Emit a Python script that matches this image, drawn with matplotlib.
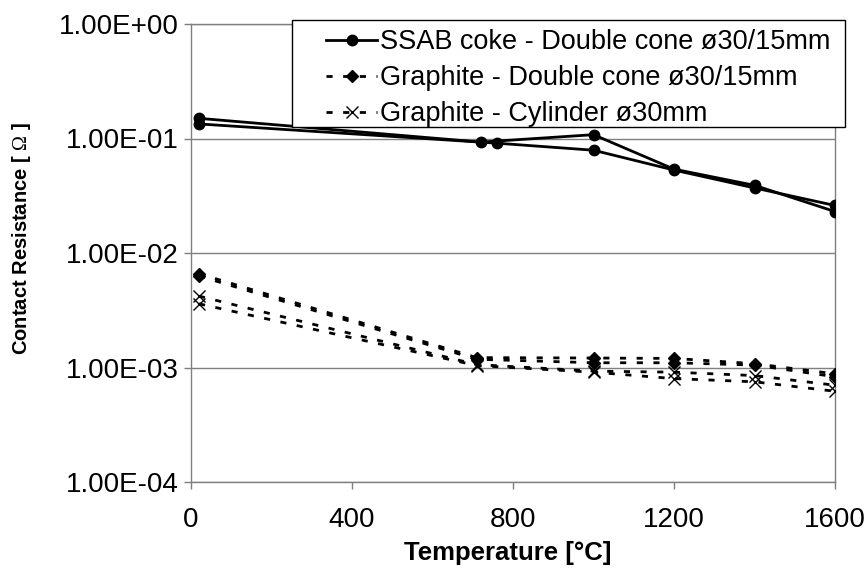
import matplotlib.pyplot as plt
from matplotlib.patches import Rectangle
from matplotlib.ticker import FixedLocator, FuncFormatter, NullLocator

plt.rcParams['font.family'] = ['Liberation Sans', 'DejaVu Sans']
plt.rcParams['mathtext.fontset'] = 'custom'
plt.rcParams['mathtext.rm'] = 'Liberation Serif'

# contact resistance [ohm] vs temperature [degC], two runs per configuration
ssab_t1 = [20, 720, 1000, 1200, 1400, 1600]
ssab_r1 = [0.150, 0.093, 0.108, 0.054, 0.039, 0.023]
ssab_t2 = [20, 760, 1000, 1200, 1400, 1600]
ssab_r2 = [0.134, 0.091, 0.079, 0.053, 0.037, 0.026]

gr_t = [20, 710, 1000, 1200, 1400, 1600]
cone_r1 = [0.0066, 0.00122, 0.00121, 0.00120, 0.00108, 0.00088]
cone_r2 = [0.0063, 0.00118, 0.00110, 0.00110, 0.00105, 0.00083]
cyl_r1 = [0.0042, 0.00106, 0.00093, 0.00091, 0.00085, 0.00070]
cyl_r2 = [0.0036, 0.00104, 0.00091, 0.00080, 0.00075, 0.00062]

labels = ['SSAB coke - Double cone ø30/15mm',
          'Graphite - Double cone ø30/15mm',
          'Graphite - Cylinder ø30mm']
x_ticks = [0, 400, 800, 1200, 1600]
y_ticks = [1e-4, 1e-3, 1e-2, 1e-1, 1e0]

W, H = 866, 569
fig = plt.figure(figsize=(W / 100, H / 100), dpi=100)
ax = fig.add_axes([191/W, 1-482/H, (835-191)/W, (482-24)/H])

dash = (0, (2.2, 3.8))
h1, = ax.plot(ssab_t1, ssab_r1, color='black', lw=2.0, marker='o', ms=7.5, zorder=4)
ax.plot(ssab_t2, ssab_r2, color='black', lw=2.0, marker='o', ms=7.5, zorder=4)
h2, = ax.plot(gr_t, cone_r1, color='black', lw=2.0, ls=dash, marker='D', ms=6.5, zorder=3)
ax.plot(gr_t, cone_r2, color='black', lw=2.0, ls=dash, marker='D', ms=6.5, zorder=3)
h3, = ax.plot(gr_t, cyl_r1, color='black', lw=2.0, ls=dash, marker='x', ms=8, mew=1.0, zorder=3)
ax.plot(gr_t, cyl_r2, color='black', lw=2.0, ls=dash, marker='x', ms=8, mew=1.0, zorder=3)

ax.set_yscale('log')
ax.set_ylim(1e-4, 1e0)
ax.set_xlim(0, 1600)
ax.yaxis.set_major_locator(FixedLocator(y_ticks))
ax.yaxis.set_minor_locator(NullLocator())
ax.yaxis.set_major_formatter(FuncFormatter(lambda v, p: f'{v:.2E}'))
ax.xaxis.set_major_locator(FixedLocator(x_ticks))

ax.grid(axis='y', color='#7f7f7f', lw=1.0)
ax.set_axisbelow(True)
for sp in ax.spines.values():
    sp.set_color('#7f7f7f')
    sp.set_linewidth(1.0)
ax.tick_params(axis='both', direction='out', length=5, width=1.0, color='#7f7f7f',
               labelsize=20)
ax.tick_params(axis='y', pad=4)
ax.tick_params(axis='x', pad=13)

fig.text(508/W, 1-553/H, 'Temperature [°C]', fontsize=18.5, fontweight='bold',
         ha='center', va='center')
fig.text(22/W, 1-239/H, r'Contact Resistance [ $\mathrm{\Omega}$ ]', fontsize=14.5,
         fontweight='bold', rotation=90, ha='center', va='center')

# legend box drawn separately so the left inset can be wider than the top one
fig.patches.append(Rectangle((292/W, 1-127/H), (845-292)/W, (127-20)/H,
                             transform=fig.transFigure, facecolor='white',
                             edgecolor='black', lw=1.0, zorder=5))
leg = fig.legend([h1, h2, h3], labels, loc='upper left',
                 bbox_to_anchor=(326/W, 1-29/H), fontsize=19.5, frameon=False,
                 handlelength=1.9, handletextpad=0.1, labelspacing=0.37,
                 borderpad=0, borderaxespad=0)
leg.set_zorder(6)

fig.savefig('out.png', dpi=100)
